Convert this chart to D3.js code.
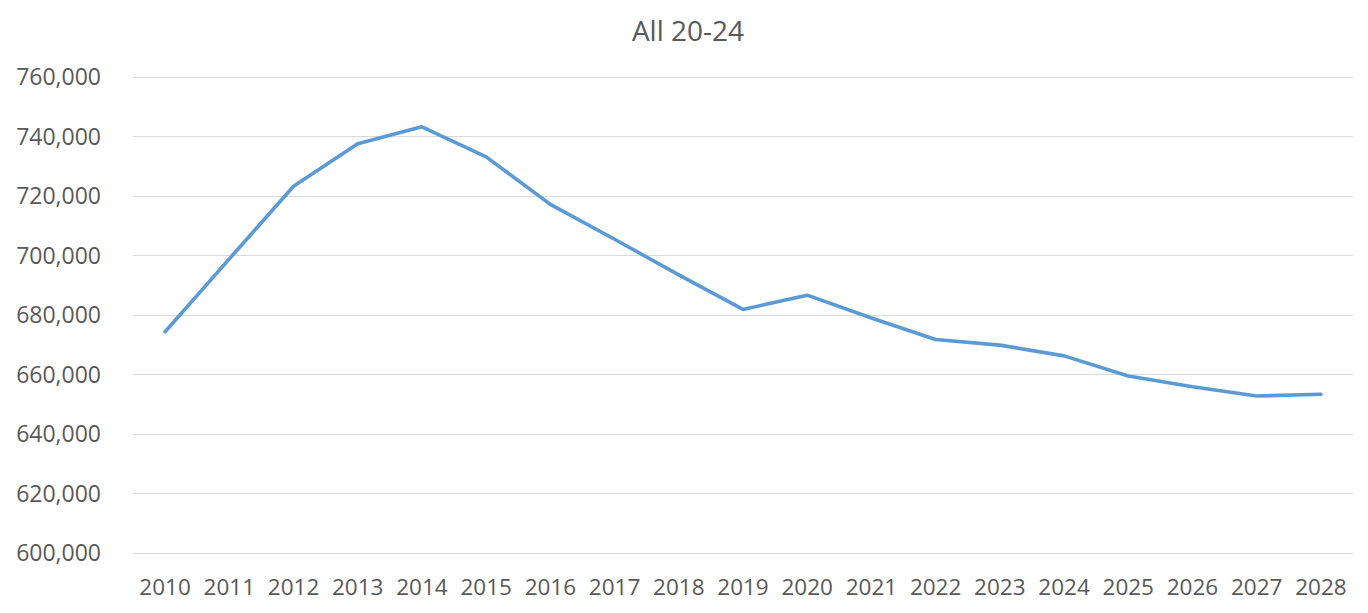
<!DOCTYPE html>
<html><head><meta charset="utf-8">
<script src="https://cdn.jsdelivr.net/npm/d3@7"></script>
<style>body{margin:0;background:#fff}svg{display:block}text{font-family:"Open Sans",sans-serif;fill:#595959}</style>
</head><body><svg id="c" width="1368" height="613"></svg>
<script>
const title = "All 20-24";
const years = ["2010","2011","2012","2013","2014","2015","2016","2017","2018","2019","2020","2021","2022","2023","2024","2025","2026","2027","2028"];
const values = [674200,698700,723100,737400,743100,733000,717000,705300,693300,681700,686500,678800,671600,669700,666100,659300,655700,652600,653200];
const yTicks = [600000,620000,640000,660000,680000,700000,720000,740000,760000];

const svg = d3.select("#c");
const x = d3.scaleBand().domain(years).range([133, 1353]);
const y = d3.scaleLinear().domain([600000, 760000]).range([552.5, 76.5]);
const fmt = d3.format(",");

svg.append("g").selectAll("line").data(yTicks).join("line")
  .attr("x1", 133).attr("x2", 1353)
  .attr("y1", d => Math.round(y(d)) + 0.5).attr("y2", d => Math.round(y(d)) + 0.5)
  .attr("stroke", "#d9d9d9").attr("stroke-width", 1);

svg.append("g").selectAll("text").data(yTicks).join("text")
  .attr("x", 101).attr("y", d => y(d) + 8.5)
  .attr("text-anchor", "end").style("font-size", "23px").text(d => fmt(d));

svg.append("g").selectAll("text").data(years).join("text")
  .attr("x", d => x(d) + x.bandwidth() / 2).attr("y", 595)
  .attr("text-anchor", "middle").style("font-size", "22.5px").text(d => d);

svg.append("text").attr("x", 688).attr("y", 40.5).attr("text-anchor", "middle")
  .style("font-size", "28px").text(title);

const line = d3.line().x((d, i) => x(years[i]) + x.bandwidth() / 2).y(d => y(d));
svg.append("path").datum(values).attr("d", line).attr("fill", "none")
  .attr("stroke", "#5b9bd5").attr("stroke-width", 3.6).attr("stroke-linejoin", "round").attr("stroke-linecap", "round");
</script></body></html>
